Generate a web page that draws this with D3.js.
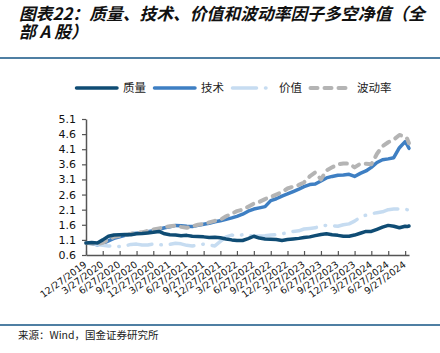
<!DOCTYPE html>
<html>
<head>
<meta charset="utf-8">
<script src="https://cdn.jsdelivr.net/npm/d3@7"></script>
<style>
    body { margin: 0; background: #ffffff; }
    svg { display: block; }
</style>
</head>
<body>
<div id="chart"></div>
<script>
const dates = [
    '2019-12-27', '2020-01-27', '2020-02-27', '2020-03-27', '2020-04-27', '2020-05-27',
    '2020-06-27', '2020-07-27', '2020-08-27', '2020-09-27', '2020-10-27', '2020-11-27',
    '2020-12-27', '2021-01-27', '2021-02-27', '2021-03-27', '2021-04-27', '2021-05-27',
    '2021-06-27', '2021-07-27', '2021-08-27', '2021-09-27', '2021-10-27', '2021-11-27',
    '2021-12-27', '2022-01-27', '2022-02-27', '2022-03-27', '2022-04-27', '2022-05-27',
    '2022-06-27', '2022-07-27', '2022-08-27', '2022-09-27', '2022-10-27', '2022-11-27',
    '2022-12-27', '2023-01-27', '2023-02-27', '2023-03-27', '2023-04-27', '2023-05-27',
    '2023-06-27', '2023-07-27', '2023-08-27', '2023-09-27', '2023-10-27', '2023-11-27',
    '2023-12-27', '2024-01-27', '2024-02-27', '2024-03-27', '2024-04-27', '2024-05-27',
    '2024-06-27', '2024-07-27', '2024-08-27', '2024-09-27', '2024-10-08', '2024-10-18'
];

const quality = [
    1.00, 1.01, 1.00, 1.10, 1.22, 1.26, 1.27, 1.28, 1.27, 1.30, 1.31, 1.33,
    1.35, 1.38, 1.30, 1.27, 1.26, 1.24, 1.25, 1.22, 1.21, 1.20, 1.18, 1.19,
    1.17, 1.13, 1.10, 1.08, 1.08, 1.14, 1.22, 1.16, 1.13, 1.12, 1.11, 1.08,
    1.11, 1.13, 1.15, 1.18, 1.20, 1.24, 1.28, 1.30, 1.27, 1.25, 1.22, 1.22,
    1.26, 1.32, 1.38, 1.38, 1.45, 1.52, 1.58, 1.55, 1.50, 1.55, 1.54, 1.56
];

const technology = [
    1.00, 0.98, 0.94, 0.98, 1.07, 1.15, 1.20, 1.25, 1.30, 1.32, 1.34, 1.37,
    1.40, 1.45, 1.50, 1.53, 1.58, 1.57, 1.55, 1.54, 1.58, 1.62, 1.65, 1.70,
    1.73, 1.78, 1.83, 1.88, 1.95, 2.05, 2.12, 2.16, 2.20, 2.40, 2.46, 2.55,
    2.62, 2.70, 2.78, 2.86, 2.93, 2.95, 3.05, 3.15, 3.20, 3.24, 3.25, 3.27,
    3.20, 3.30, 3.38, 3.50, 3.66, 3.75, 3.78, 3.82, 4.15, 4.35, 4.25, 4.13
];

const value = [
    1.00, 0.98, 0.95, 0.92, 0.90, 0.90, 0.88, 0.90, 0.95, 0.96, 0.93, 0.93,
    0.96, 0.94, 0.93, 0.95, 0.99, 0.97, 0.92, 0.90, 0.93, 0.96, 0.93, 0.90,
    1.05, 1.20, 1.26, 1.23, 1.27, 1.25, 1.22, 1.23, 1.24, 1.26, 1.27, 1.30,
    1.34, 1.38, 1.40, 1.46, 1.48, 1.50, 1.57, 1.58, 1.57, 1.55, 1.60, 1.63,
    1.72, 1.85, 1.92, 1.97, 2.00, 2.03, 2.10, 2.12, 2.12, 2.11, 2.10, 2.10
];

const volatility = [
    1.00, 0.99, 0.96, 1.00, 1.12, 1.20, 1.23, 1.26, 1.30, 1.33, 1.35, 1.40,
    1.44, 1.48, 1.52, 1.55, 1.57, 1.53, 1.50, 1.55, 1.60, 1.63, 1.68, 1.73,
    1.77, 1.88, 1.97, 2.05, 2.10, 2.20, 2.30, 2.36, 2.45, 2.52, 2.60, 2.68,
    2.80, 2.86, 2.92, 3.00, 3.20, 3.33, 3.10, 3.40, 3.50, 3.60, 3.63, 3.62,
    3.50, 3.62, 3.62, 3.60, 3.95, 4.20, 4.33, 4.42, 4.57, 4.52, 4.45, 4.30
];

const tick_labels = [
    '12/27/2019', '3/27/2020', '6/27/2020', '9/27/2020', '12/27/2020',
    '3/27/2021', '6/27/2021', '9/27/2021', '12/27/2021', '3/27/2022',
    '6/27/2022', '9/27/2022', '12/27/2022', '3/27/2023', '6/27/2023',
    '9/27/2023', '12/27/2023', '3/27/2024', '6/27/2024', '9/27/2024'
];

const y_ticks = [0.6, 1.1, 1.6, 2.1, 2.6, 3.1, 3.6, 4.1, 4.6, 5.1];

const series_names = ['质量', '技术', '价值', '波动率'];

(function() {
    const width = 440,
        height = 353;

    const styles = [
        { color: '#0f4c74', width: 3.5, dash: null },
        { color: '#3e7fc3', width: 3.5, dash: null },
        { color: '#c6dcf1', width: 3.5, dash: '24,9,0.5,9' },
        { color: '#b4b4b4', width: 4, dash: '7,7' }
    ];

    let parse_date = d3.timeParse('%Y-%m-%d'),
        parse_tick = d3.timeParse('%m/%d/%Y');

    let all_series = [quality, technology, value, volatility].map(function(vals, i) {
        return {
            name: series_names[i],
            style: styles[i],
            points: vals.map((v, j) => ({ date: parse_date(dates[j]), value: v }))
        };
    });

    let svg = d3.select('#chart').append('svg')
        .attr('width', width)
        .attr('height', height)
        .attr('font-family', '"Noto Sans CJK SC", sans-serif');

    svg.append('rect')
        .attr('width', width)
        .attr('height', height)
        .attr('fill', '#ffffff');

    // title, two lines like the report
    let title = svg.append('text')
        .attr('font-size', 16.8)
        .attr('font-weight', 'bold')
        .attr('font-style', 'italic')
        .attr('fill', '#111111');
    title.append('tspan').attr('x', 19).attr('y', 20)
        .text('图表22：质量、技术、价值和波动率因子多空净值（全');
    title.append('tspan').attr('x', 19).attr('y', 38)
        .text('部 A 股）');

    svg.append('line')
        .attr('x1', 0).attr('x2', width)
        .attr('y1', 58).attr('y2', 58)
        .attr('stroke', '#4f7fa3')
        .attr('stroke-width', 2);

    svg.append('line')
        .attr('x1', 0).attr('x2', width)
        .attr('y1', 325).attr('y2', 325)
        .attr('stroke', '#4f7fa3')
        .attr('stroke-width', 2);

    svg.append('text')
        .attr('x', 18)
        .attr('y', 335)
        .attr('dy', '0.35em')
        .attr('font-size', 10.5)
        .attr('fill', '#222222')
        .text('来源：Wind，国金证券研究所');

    // legend
    let legend = svg.append('g')
        .attr('font-size', 11.5)
        .attr('transform', 'translate(75,88)');

    let items = legend.selectAll('g')
        .data(all_series)
        .enter().append('g')
        .attr('transform', (d, i) => 'translate(' + (i * 78) + ',0)');

    items.append('line')
        .attr('x1', 1.5)
        .attr('x2', (d) => d.style.dash ? 41 : 42)
        .attr('stroke', (d) => d.style.color)
        .attr('stroke-width', (d) => d.style.width)
        .attr('stroke-linecap', 'round')
        .attr('stroke-dasharray', (d) => d.style.dash);

    items.append('text')
        .attr('x', 48)
        .attr('dy', '0.35em')
        .attr('fill', '#222222')
        .text((d) => d.name);

    // plot
    let x = d3.scaleTime()
        .domain([parse_date(dates[0]), parse_date(dates[dates.length - 1])])
        .range([86, 409]);

    let y = d3.scaleLinear()
        .domain([0.6, 5.1])
        .range([255, 119]);

    let tick_dates = tick_labels.map((s) => parse_tick(s));

    let x_axis = svg.append('g')
        .attr('transform', 'translate(0,255)')
        .call(d3.axisBottom(x)
            .tickValues(tick_dates)
            .tickSizeInner(-4)
            .tickSizeOuter(0)
            .tickFormat((d, i) => tick_labels[i]));

    x_axis.select('.domain')
        .attr('stroke', '#555555')
        .attr('stroke-width', 1.5);
    x_axis.selectAll('.tick line')
        .attr('stroke', '#555555')
        .attr('stroke-width', 1.2);
    x_axis.selectAll('.tick text')
        .attr('font-family', '"DejaVu Sans", sans-serif')
        .attr('font-size', 9.5)
        .attr('fill', '#111111')
        .attr('text-anchor', 'end')
        .attr('y', 0)
        .attr('dy', 0)
        .attr('transform', 'translate(1,11) rotate(-36)');

    let y_axis = svg.append('g')
        .attr('transform', 'translate(86,0)')
        .call(d3.axisLeft(y)
            .tickValues(y_ticks)
            .tickSizeInner(4)
            .tickSizeOuter(0)
            .tickPadding(6)
            .tickFormat(d3.format('.1f')));

    y_axis.select('.domain')
        .attr('stroke', '#555555')
        .attr('stroke-width', 1.5);
    y_axis.selectAll('.tick line')
        .attr('stroke', '#555555')
        .attr('stroke-width', 1.2);
    y_axis.selectAll('.tick text')
        .attr('font-family', '"DejaVu Sans", sans-serif')
        .attr('font-size', 11)
        .attr('fill', '#111111');

    let line = d3.line()
        .x((d) => x(d.date))
        .y((d) => y(d.value));

    // draw quality last so it sits above the value line
    let draw_order = [1, 2, 3, 0];
    svg.append('g')
        .selectAll('path')
        .data(draw_order.map((i) => all_series[i]))
        .enter().append('path')
        .attr('fill', 'none')
        .attr('stroke', (d) => d.style.color)
        .attr('stroke-width', (d) => d.style.width)
        .attr('stroke-linejoin', 'round')
        .attr('stroke-linecap', 'round')
        .attr('stroke-dasharray', (d) => d.style.dash)
        .attr('d', (d) => line(d.points));
})();
</script>
</body>
</html>
